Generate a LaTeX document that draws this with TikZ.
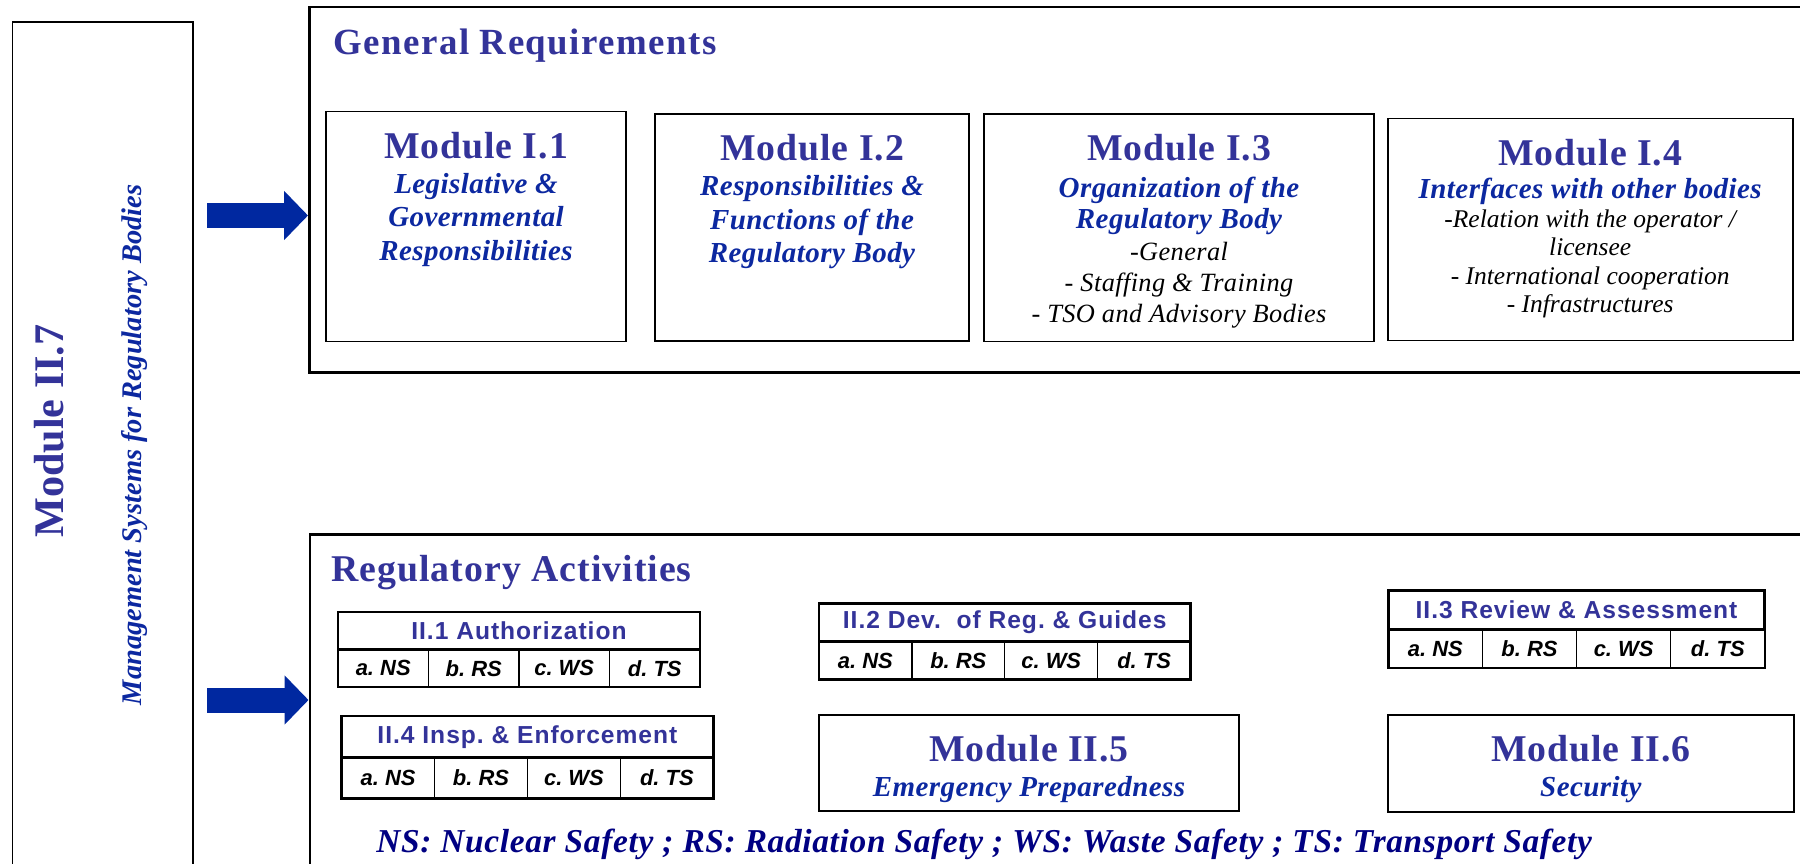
\documentclass[tikz,border=0pt]{standalone}
\usepackage{fontspec}
\setmainfont{Liberation Serif}
\setsansfont{Liberation Sans}
\usepackage{tikz}
\usetikzlibrary{positioning,fit,arrows.meta}
\definecolor{modblue}{RGB}{51,51,153}
\definecolor{subblue}{RGB}{12,40,160}
\definecolor{arrowblue}{RGB}{0,40,160}
\definecolor{legblue}{RGB}{0,0,130}
\newcommand{\mtitle}[1]{{\color{modblue}\bfseries\upshape\fontsize{21.5}{24}\selectfont\addfontfeature{LetterSpace=2.5}#1}}
\newcommand{\msub}[1]{{\color{subblue}\bfseries\itshape\fontsize{16.5}{19}\selectfont\addfontfeature{LetterSpace=1.5}#1}}

\begin{document}
\begin{tikzpicture}[x=0.02cm, y=-0.02cm,
    group/.style={draw, line width=1.7pt, inner sep=0pt},
    modbox/.style={draw, line width=0.9pt, inner sep=0pt},
    modtext/.style={anchor=north, inner sep=0pt, align=center},
    tabhead/.style={draw, line width=1.5pt, inner sep=0pt, outer sep=0pt, anchor=north west, text=modblue,
      font=\sffamily\bfseries\fontsize{14}{16}\selectfont\addfontfeature{LetterSpace=4}},
    tabcell/.style={draw, line width=0.7pt, inner sep=0pt, outer sep=0pt, anchor=north west,
      font=\sffamily\bfseries\itshape\fontsize{12.5}{14}\selectfont},
    bigarrow/.style={draw=arrowblue, line width=0.5cm, -{Triangle[length=0.48cm, width=0.96cm]}}]

  \useasboundingbox (0,0) rectangle (1800,863);
  \clip (0,0) rectangle (1800,863);

  % management systems column
  \node[draw, line width=0.6pt, inner sep=0pt, fit={(12.5,22) (193,900)}] (m27) {};
  \node[rotate=90, text=modblue, font=\bfseries\fontsize{24}{26}\selectfont] (m27t) at (49,431) {Module II.7};
  \node[rotate=90, text=subblue, font=\bfseries\itshape\fontsize{16.2}{18}\selectfont] (m27s) at (135,445) {Management Systems for Regulatory Bodies};

  % general requirements
  \node[group, fit={(309.5,7) (1840,372)}] (gen) {};
  \node[anchor=base west, inner sep=0pt, text=modblue, font=\bfseries\fontsize{21}{24}\selectfont\addfontfeature{LetterSpace=4}] (gent) at (333,54) {General Requirements};

  \node[modbox, fit={(326,111.7) (626,341.5)}] (m11) {};
  \node[modtext, font=\fontsize{16.5}{19}\selectfont] (m11t) at ([yshift=-0.42cm]m11.north)
    {\mtitle{Module I.1}\\[1pt] \msub{Legislative \&}\\ \msub{Governmental}\\ \msub{Responsibilities}};

  \node[modbox, fit={(655,114) (969,341)}] (m12) {};
  \node[modtext, font=\fontsize{16.5}{19}\selectfont] (m12t) at ([yshift=-0.42cm]m12.north)
    {\mtitle{Module I.2}\\[1pt] \msub{Responsibilities \&}\\ \msub{Functions of the}\\ \msub{Regulatory Body}};

  \node[modbox, fit={(984,114) (1374,341.5)}] (m13) {};
  \node[modtext, font=\itshape\fontsize{15}{17.8}\selectfont\addfontfeature{LetterSpace=1.5}] (m13t) at ([yshift=-0.42cm]m13.north)
    {\mtitle{Module I.3}\\[3.2pt] \msub{Organization of the}\\ \msub{Regulatory Body}\\ -General\\ - Staffing \& Training\\ - TSO and Advisory Bodies};

  \node[modbox, fit={(1387.7,118.3) (1792.7,340.3)}] (m14) {};
  \node[modtext, font=\itshape\fontsize{14.5}{16.2}\selectfont] (m14t) at ([yshift=-0.42cm]m14.north)
    {\mtitle{Module I.4}\\[3pt] \msub{Interfaces with other bodies}\\ -Relation with the operator /\\ licensee\\ - International cooperation\\ - Infrastructures};

  % regulatory activities
  \node[group, fit={(310,534) (1840,900)}] (reg) {};
  \node[anchor=base west, inner sep=0pt, text=modblue, font=\bfseries\fontsize{21.5}{24}\selectfont\addfontfeature{LetterSpace=2.7}] (regt) at (331,581) {Regulatory Activities};

  \node[tabhead, minimum width=7.24cm, minimum height=0.75cm] (t1) at (338,612) {II.1 Authorization};
  \foreach \c [count=\i] in {a.\ NS, b.\ RS, c.\ WS, d.\ TS}
    \node[tabcell, minimum width=1.81cm, minimum height=0.75cm] (t1\i) at ({338+(\i-1)*90.5},649.5) {\c};
  \draw[line width=1.5pt] (t1.north west) rectangle (t14.south east);

  \node[tabhead, minimum width=7.43cm, minimum height=0.77cm] (t2) at (819,603.3) {II.2 Dev.~~of Reg.\ \& Guides};
  \foreach \c [count=\i] in {a.\ NS, b.\ RS, c.\ WS, d.\ TS}
    \node[tabcell, minimum width=1.858cm, minimum height=0.75cm] (t2\i) at ({819+(\i-1)*92.9},641.7) {\c};
  \draw[line width=1.5pt] (t2.north west) rectangle (t24.south east);

  \node[tabhead, minimum width=7.53cm, minimum height=0.77cm] (t3) at (1388.3,590.7) {II.3 Review \& Assessment};
  \foreach \c [count=\i] in {a.\ NS, b.\ RS, c.\ WS, d.\ TS}
    \node[tabcell, minimum width=1.883cm, minimum height=0.78cm] (t3\i) at ({1388.3+(\i-1)*94.15},629) {\c};
  \draw[line width=1.5pt] (t3.north west) rectangle (t34.south east);

  \node[tabhead, minimum width=7.43cm, minimum height=0.83cm] (t4) at (341.7,716) {II.4 Insp.\ \& Enforcement};
  \foreach \c [count=\i] in {a.\ NS, b.\ RS, c.\ WS, d.\ TS}
    \node[tabcell, minimum width=1.858cm, minimum height=0.83cm] (t4\i) at ({341.7+(\i-1)*92.9},757.3) {\c};
  \draw[line width=1.5pt] (t4.north west) rectangle (t44.south east);

  \node[modbox, fit={(819,715) (1239,811)}] (m25) {};
  \node[modtext, font=\fontsize{16.5}{19}\selectfont] (m25t) at ([yshift=-0.42cm]m25.north)
    {\mtitle{Module II.5}\\[1pt] \msub{Emergency Preparedness}};

  \node[modbox, fit={(1387.7,715) (1794,811.7)}] (m26) {};
  \node[modtext, font=\fontsize{16.5}{19}\selectfont] (m26t) at ([yshift=-0.42cm]m26.north)
    {\mtitle{Module II.6}\\[1pt] \msub{Security}};

  \node[anchor=base west, inner sep=0pt, text=legblue, font=\bfseries\itshape\fontsize{19}{22}\selectfont\addfontfeature{LetterSpace=2}] (legend) at (376,852)
    {NS: Nuclear Safety ; RS: Radiation Safety ; WS: Waste Safety ; TS: Transport Safety};

  % arrows into both groups
  \coordinate (a1) at (207,215.5);
  \coordinate (a2) at (207,700);
  \draw[bigarrow] (a1) -- (gen.west |- a1);
  \draw[bigarrow] (a2) -- (reg.west |- a2);
\end{tikzpicture}
\end{document}
